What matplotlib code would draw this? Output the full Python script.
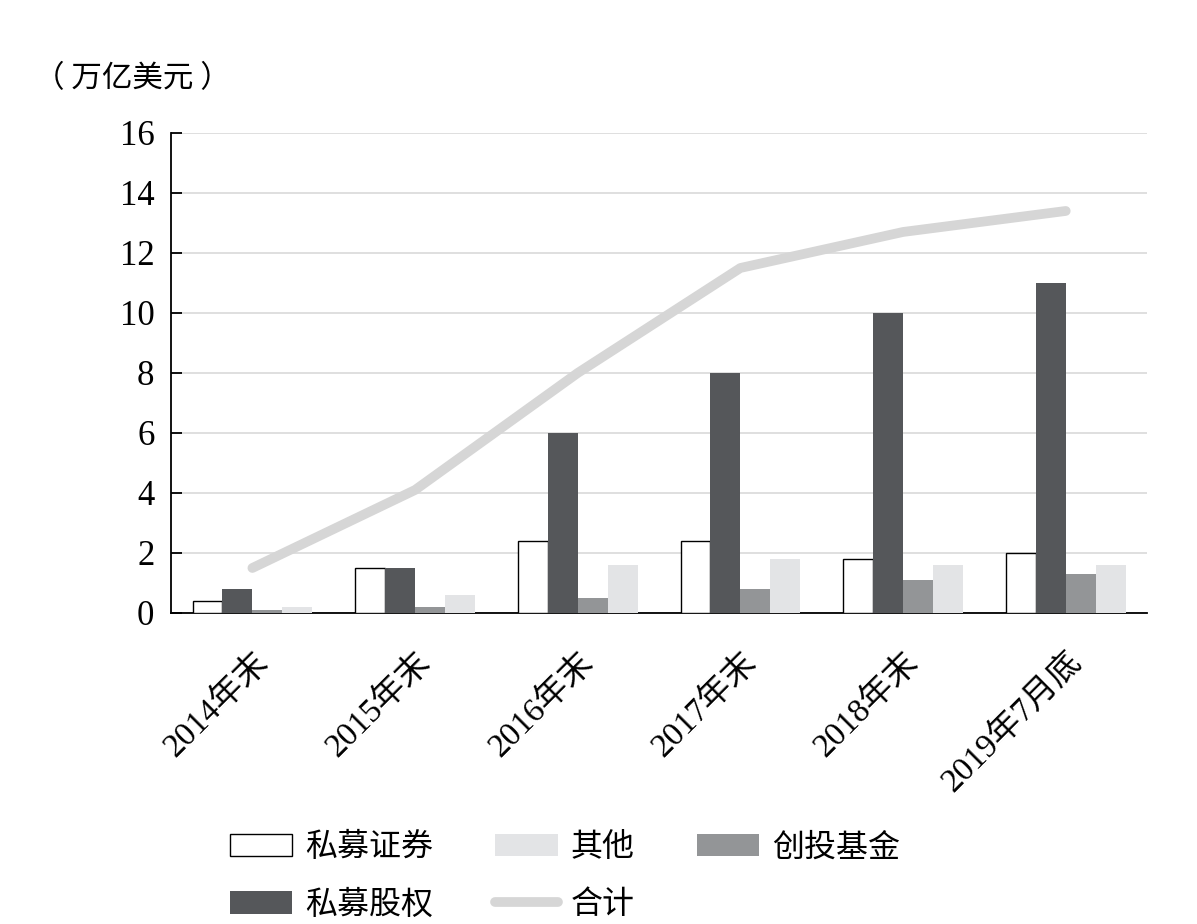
import matplotlib
matplotlib.use('Agg')
import numpy as np
from matplotlib import pyplot as plt

plt.rcParams['font.family'] = ['Liberation Serif', 'Noto Sans CJK SC']

categories = ['2014年末', '2015年末', '2016年末', '2017年末', '2018年末', '2019年7月底']
securities = [0.4, 1.5, 2.4, 2.4, 1.8, 2.0]    # 私募证券
equity = [0.8, 1.5, 6.0, 8.0, 10.0, 11.0]      # 私募股权
venture = [0.1, 0.2, 0.5, 0.8, 1.1, 1.3]       # 创投基金
other = [0.2, 0.6, 1.6, 1.8, 1.6, 1.6]         # 其他
total = [1.5, 4.1, 8.0, 11.5, 12.7, 13.4]      # 合计

fig = plt.figure(figsize=(11.97, 9.24), dpi=100)
ax = fig.add_axes([0.1429, 0.3366, 0.8154, 0.5195])

x = np.arange(len(categories))
w = 0.184
h_sec = ax.bar(x - 1.5 * w, securities, w, color='white', edgecolor='black', linewidth=1.0, label='私募证券', zorder=3)
h_eq = ax.bar(x - 0.5 * w, equity, w, color='#55575a', label='私募股权', zorder=3)
h_vc = ax.bar(x + 0.5 * w, venture, w, color='#939597', label='创投基金', zorder=3)
h_ot = ax.bar(x + 1.5 * w, other, w, color='#e3e4e6', label='其他', zorder=3)
h_tot, = ax.plot(x, total, color='#d6d6d6', linewidth=7, solid_capstyle='round', label='合计', zorder=4)

ax.set_xlim(-0.5, 5.5)
ax.set_ylim(0, 16)
ax.set_yticks(range(0, 17, 2))
ax.yaxis.grid(True, color='#d9d9d9', linewidth=1.2, zorder=0)
ax.set_axisbelow(True)
for s in ['top', 'right']:
    ax.spines[s].set_visible(False)
ax.spines['left'].set_linewidth(1.3)
ax.spines['bottom'].set_linewidth(1.3)
ax.tick_params(axis='y', direction='in', length=8, width=1.3, labelsize=25, pad=12)
ax.tick_params(axis='x', length=0, pad=24)
ax.set_xticks(x)
ax.set_xticklabels(categories, rotation=45, ha='right', rotation_mode='anchor', fontsize=24)

fig.text(0.028, 0.915, '（ 万亿美元 ）', fontsize=22, ha='left', va='center',
         family=['Noto Sans CJK SC'])

handles = [h_sec, h_eq, h_ot, h_tot, h_vc]
labels = [hh.get_label() for hh in handles]
fig.legend(handles, labels, ncol=3, loc='center', bbox_to_anchor=(0.472, 0.051),
           frameon=False, fontsize=23, handlelength=1.95, handleheight=0.7,
           columnspacing=1.95, labelspacing=0.85, handletextpad=0.4)

plt.savefig('out.png')
